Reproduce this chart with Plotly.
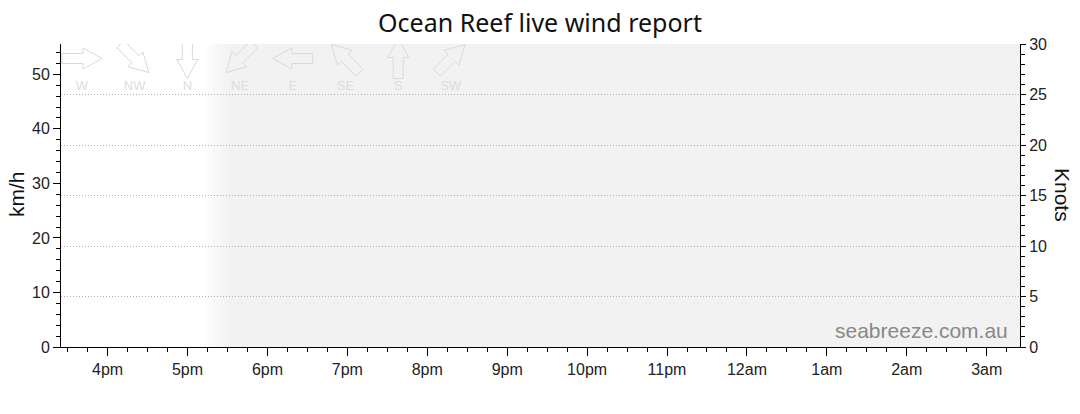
import numpy as np
import pandas as pd
import plotly.graph_objects as go

# chart window (no observations reported yet)
day = "2024-06-20"
next_day = "2024-06-21"
x_start = day + " 15:25"
x_end = next_day + " 03:25"

wind_times = []
wind_kmh = []

tick_times = [day + " 16:00", day + " 17:00", day + " 18:00", day + " 19:00",
              day + " 20:00", day + " 21:00", day + " 22:00", day + " 23:00",
              next_day + " 00:00", next_day + " 01:00", next_day + " 02:00",
              next_day + " 03:00"]
tick_labels = ["4pm", "5pm", "6pm", "7pm", "8pm", "9pm", "10pm", "11pm",
               "12am", "1am", "2am", "3am"]

# dusk fade then night shading
dusk_start = day + " 17:12"
night_start = day + " 17:30"

directions = ["W", "NW", "N", "NE", "E", "SE", "S", "SW"]
bearings = [270, 315, 0, 45, 90, 135, 180, 225]

knots_max = 30
kmh_per_knot = 1.852

W, H = 1080, 414
box_l, box_t, box_r, box_b = 61, 44, 1020, 347   # plot box in pixels
pw, ph = box_r - box_l, box_b - box_t
ml, mt = box_l, box_t
mr, mb = W - ml - pw, H - mt - ph


def px(x):
    return (x - box_l) / pw


def py(y):
    return (box_b - y) / ph


fig = go.Figure()

fig.add_trace(go.Scatter(x=wind_times, y=wind_kmh, mode="lines",
                         line=dict(color="#1f4e9c", width=2), showlegend=False))
fig.add_trace(go.Scatter(x=[], y=[], yaxis="y2", showlegend=False))

# night shading with a soft edge
shapes = []
steps = pd.date_range(dusk_start, night_start, periods=13)
for i in range(len(steps) - 1):
    g = int(round(255 - (255 - 242) * (i + 1) / (len(steps) - 1)))
    shapes.append(dict(type="rect", xref="x", yref="paper",
                       x0=steps[i], x1=steps[i + 1], y0=0, y1=1,
                       fillcolor="rgb(%d,%d,%d)" % (g, g, g),
                       line=dict(width=0), layer="below"))
shapes.append(dict(type="rect", xref="x", yref="paper",
                   x0=night_start, x1=x_end, y0=0, y1=1,
                   fillcolor="#f2f2f2", line=dict(width=0), layer="below"))

# direction key arrows (pixel units on an overlay axis)
base = np.array([[-20, -5], [1, -5], [1, -10.5], [20, 0], [1, 10.5],
                 [1, 5], [-20, 5], [-20, -5]])
ax_x, ax_y, lab_x = [], [], []
for i, b in enumerate(bearings):
    ang = np.radians(90 - (b + 180))
    rot = np.array([[np.cos(ang), -np.sin(ang)], [np.sin(ang), np.cos(ang)]])
    pts = base @ rot.T
    cx = 82 + 52.7 * i - box_l
    cy = box_b - 58.5
    ax_x += list(pts[:, 0] + cx) + [None]
    ax_y += list(pts[:, 1] + cy) + [None]
    lab_x.append(cx)

fig.add_trace(go.Scatter(x=ax_x, y=ax_y, xaxis="x3", yaxis="y3", mode="lines",
                         line=dict(color="#d9d9d9", width=1),
                         hoverinfo="skip", showlegend=False))
fig.add_trace(go.Scatter(x=lab_x, y=[box_b - 87] * len(lab_x), xaxis="x3", yaxis="y3",
                         mode="text", text=directions,
                         textfont=dict(family="Liberation Sans", size=13, color="#dcdcdc"),
                         hoverinfo="skip", showlegend=False))

tickfont = dict(family="Liberation Sans", size=16, color="#222")

fig.update_layout(
    width=W, height=H,
    template="none",
    margin=dict(l=ml, r=mr, t=mt, b=mb, autoexpand=False),
    paper_bgcolor="white", plot_bgcolor="white",
    showlegend=False, hovermode=False,
    title=dict(text="Ocean Reef live wind report", x=0.5, xanchor="center",
               y=1 - 23 / H, yanchor="middle",
               font=dict(family="Noto Sans", size=25, color="#111")),
    shapes=shapes,
    xaxis=dict(type="date", range=[x_start, x_end],
               tickmode="array", tickvals=tick_times, ticktext=tick_labels,
               ticks="outside", ticklen=8, tickcolor="black", tickwidth=1,
               minor=dict(dtick=15 * 60 * 1000, tick0=day + " 16:00",
                          ticks="outside", ticklen=4, tickcolor="black"),
               showline=True, linecolor="black", linewidth=1,
               showgrid=False, zeroline=False, tickfont=tickfont,
               automargin=False, fixedrange=True),
    yaxis=dict(range=[0, knots_max * kmh_per_knot], dtick=10, tick0=0,
               ticks="outside", ticklen=7, tickcolor="black",
               minor=dict(dtick=2, ticks="outside", ticklen=4, tickcolor="black"),
               showline=True, linecolor="black", linewidth=1,
               showgrid=False, zeroline=False, tickfont=tickfont,
               automargin=False, fixedrange=True),
    yaxis2=dict(range=[0, knots_max], dtick=5, tick0=0, overlaying="y", side="right",
                ticks="outside", ticklen=5, tickcolor="black",
                minor=dict(dtick=1, ticks="outside", ticklen=4, tickcolor="black"),
                showline=True, linecolor="black", linewidth=1,
                showgrid=True, gridcolor="#b0b0b0", griddash="1px,2px", gridwidth=1,
                zeroline=False, tickfont=tickfont,
                automargin=False, fixedrange=True),
    xaxis3=dict(range=[0, pw], overlaying="x", anchor="y3", visible=False,
                fixedrange=True),
    yaxis3=dict(range=[0, ph], overlaying="y", anchor="x3", visible=False,
                fixedrange=True),
    annotations=[
        dict(text="km/h", xref="paper", yref="paper", x=px(16), y=py(194),
             showarrow=False, textangle=-90, xanchor="center", yanchor="middle",
             font=dict(family="Liberation Sans", size=21, color="#111")),
        dict(text="Knots", xref="paper", yref="paper", x=px(1063), y=py(195),
             showarrow=False, textangle=90, xanchor="center", yanchor="middle",
             font=dict(family="Liberation Sans", size=21, color="#111")),
        dict(text="seabreeze.com.au", xref="paper", yref="paper",
             x=px(1010), y=py(330), showarrow=False,
             xanchor="right", yanchor="middle",
             font=dict(family="Liberation Sans", size=21, color="#888")),
    ],
)

# drop the default page margin so the figure fills the window
fig.write_html("out.html", config={"displayModeBar": False},
               post_script="document.body.style.margin = '0';")
